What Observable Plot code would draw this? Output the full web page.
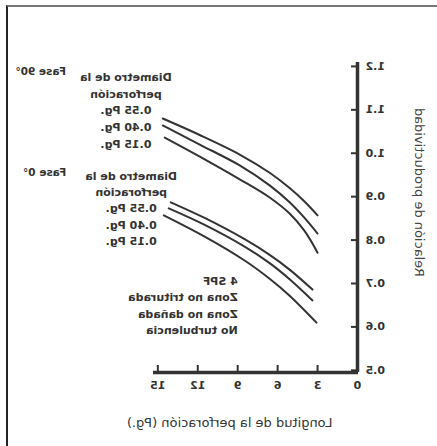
<!DOCTYPE html>
<html><head><meta charset="utf-8">
<script src="https://cdn.jsdelivr.net/npm/d3@7"></script>
<script src="https://cdn.jsdelivr.net/npm/@observablehq/plot@0.6"></script>
<style>
body{margin:0;background:#fff;}
#wrap{position:relative;width:437px;height:446px;overflow:hidden;background:#fff;}
#chart svg{transform:scaleX(-1);display:block;}
#border{position:absolute;left:6px;top:5px;right:0;bottom:0;border-left:2px solid #222;border-top:2px solid #777;pointer-events:none;}
</style></head>
<body>
<div id="wrap"><div id="chart"></div><div id="border"></div></div>
<script>
// Data read from the (mirrored) reference chart
const seriesNames = ["90-0.55", "90-0.40", "90-0.15", "0-0.55", "0-0.40", "0-0.15"];
const len_90_055 = [14.63, 11.85, 8.85, 6.6, 5.1, 3.98, 3.0];
const val_90_055 = [1.080, 1.042, 0.997, 0.955, 0.920, 0.889, 0.857];
const len_90_040 = [14.63, 11.85, 8.85, 6.6, 5.1, 3.98, 3.0];
const val_90_040 = [1.064, 1.020, 0.972, 0.926, 0.887, 0.851, 0.815];
const len_90_015 = [14.48, 11.48, 8.85, 6.6, 5.1, 3.98, 3.0];
const val_90_015 = [1.036, 0.986, 0.940, 0.898, 0.861, 0.821, 0.771];
const len_0_055 = [14.03, 11.48, 8.48, 6.6, 5.1, 3.38];
const val_0_055 = [0.887, 0.851, 0.802, 0.766, 0.732, 0.686];
const len_0_040 = [14.18, 11.48, 8.48, 6.6, 5.1, 3.38];
const val_0_040 = [0.873, 0.835, 0.785, 0.747, 0.710, 0.661];
const len_0_015 = [14.55, 11.48, 8.48, 6.6, 5.1, 3.08];
const val_0_015 = [0.857, 0.808, 0.753, 0.711, 0.672, 0.610];

const xTicks = [0, 3, 6, 9, 12, 15];
const yTicks = [0.5, 0.6, 0.7, 0.8, 0.9, 1.0, 1.1, 1.2];

const fase90Label = "Fase 90°";
const fase0Label = "Fase 0°";
const diamLabel = "Diametro de la\nperforación\n0.55 Pg.\n0.40 Pg.\n0.15 Pg.";
const notesLabel = "4 SPF\nZona no triturada\nZona no dañada\nNo turbulencia";
const xLabel = "Longitud de la perforación (Pg.)";
const yLabel = "Relación de productividad";

const lens = [len_90_055, len_90_040, len_90_015, len_0_055, len_0_040, len_0_015];
const vals = [val_90_055, val_90_040, val_90_015, val_0_055, val_0_040, val_0_015];
const rows = seriesNames.flatMap((s, i) => lens[i].map((l, j) => ({series: s, len: l, ratio: vals[i][j]})));

const font = "'DejaVu Sans', Verdana, sans-serif";
const ink = "#333";

const chart = Plot.plot({
  width: 437, height: 446,
  marginLeft: 79, marginRight: 153, marginTop: 62, marginBottom: 74,
  style: {fontFamily: font, background: "white", color: ink, overflow: "visible"},
  x: {domain: [0, 15.4]},
  y: {domain: [0.495, 1.209]},
  marks: [
    Plot.axisX({ticks: xTicks, tickSize: -7, tickPadding: 16, fontSize: 11, fontWeight: "bold", label: null, stroke: ink, strokeWidth: 2, fill: ink}),
    Plot.axisY({ticks: yTicks, tickSize: -7, tickPadding: 15, tickFormat: d => d.toFixed(1), fontSize: 11, fontWeight: "bold", label: null, stroke: ink, strokeWidth: 2, fill: ink}),
    Plot.ruleX([0], {y1: 0.495, y2: 1.209, stroke: ink, strokeWidth: 3.5}),
    Plot.ruleY([0.495], {x1: 0, x2: 15.4, stroke: ink, strokeWidth: 3.5}),
    Plot.line(rows, {x: "len", y: "ratio", z: "series", curve: "catmull-rom", stroke: ink, strokeWidth: 2}),
    Plot.text([fase90Label], {x: 23.8, y: 1.188, text: d => d, textAnchor: "middle", fontSize: 10.5, fontWeight: "bold", fill: ink}),
    Plot.text([fase0Label], {x: 23.5, y: 0.956, text: d => d, textAnchor: "middle", fontSize: 10.5, fontWeight: "bold", fill: ink}),
    Plot.text([diamLabel], {x: 17.4, y: 1.102, text: d => d, textAnchor: "middle", lineHeight: 1.52, fontSize: 11, fontWeight: "bold", fill: ink}),
    Plot.text([diamLabel], {x: 17.0, y: 0.876, text: d => d, textAnchor: "middle", lineHeight: 1.49, fontSize: 11, fontWeight: "bold", fill: ink}),
    Plot.text([notesLabel], {x: 9.0, y: 0.652, text: d => d, textAnchor: "start", lineHeight: 1.48, fontSize: 11, fontWeight: "bold", fill: ink}),
    Plot.text([xLabel], {x: 9.6, y: 0.380, text: d => d, textAnchor: "middle", fontSize: 13, fill: ink}),
    Plot.text([yLabel], {x: -4.65, y: 0.910, text: d => d, textAnchor: "middle", rotate: -90, fontSize: 13, fill: "#444"})
  ]
});
document.getElementById("chart").appendChild(chart);
</script>
</body></html>
